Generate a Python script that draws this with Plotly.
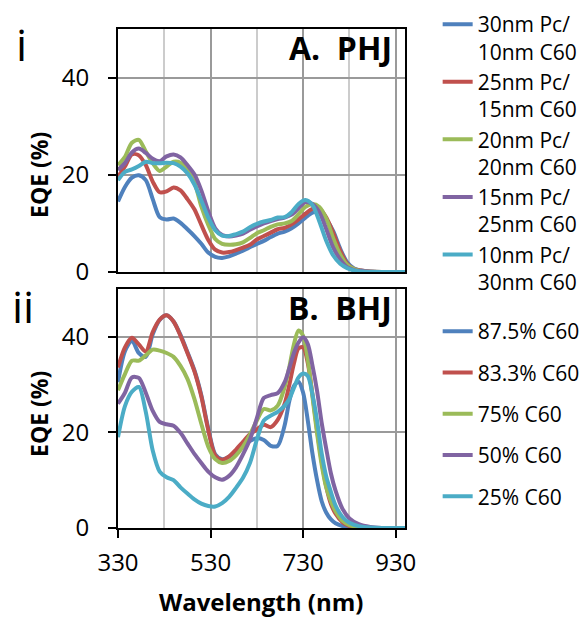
import plotly.graph_objects as go

# ---------------- data ----------------
wl_phj = [330, 345, 360, 375, 390, 405, 420, 435, 450, 465, 480, 495, 510, 525, 540, 555,
          570, 585, 600, 615, 630, 645, 660, 675, 690, 705, 720, 735, 750, 765, 780, 795,
          810, 825, 840, 855, 870, 900, 950]

phj_30_10 = [14.5, 17.5, 19.4, 19.9, 18.9, 15.0, 11.3, 10.8, 11.0, 10.1, 8.8, 7.4, 5.8, 4.0, 3.1, 2.9,
             3.2, 3.8, 4.4, 5.1, 5.8, 6.4, 7.2, 7.9, 8.3, 9.0, 10.0, 11.2, 12.2, 12.4, 10.8, 8.4,
             4.8, 2.0, 0.7, 0.3, 0.1, 0.0, 0.0]
phj_25_15 = [19.6, 21.7, 24.2, 24.0, 22.0, 18.6, 16.4, 16.6, 17.4, 16.8, 15.0, 12.9, 9.7, 6.6, 4.6, 4.0,
             4.1, 4.5, 5.0, 5.6, 6.7, 7.4, 8.1, 8.8, 9.1, 9.8, 10.8, 12.0, 13.0, 13.0, 11.2, 8.0,
             4.4, 1.7, 0.6, 0.3, 0.1, 0.0, 0.0]
phj_20_20 = [22.0, 23.7, 26.6, 27.2, 24.8, 22.4, 20.8, 21.7, 22.7, 22.5, 20.9, 18.5, 13.5, 9.7, 6.8, 5.8,
             5.6, 5.7, 6.1, 7.0, 8.0, 8.6, 9.3, 9.8, 10.0, 10.5, 11.9, 13.4, 14.0, 13.4, 11.0, 6.9,
             3.6, 1.5, 0.6, 0.2, 0.1, 0.0, 0.0]
phj_15_25 = [21.0, 22.4, 24.6, 25.4, 24.5, 23.3, 22.8, 23.8, 24.2, 23.6, 22.0, 20.1, 16.8, 12.5, 9.0, 7.6,
             7.3, 7.5, 7.9, 8.7, 9.4, 10.0, 10.5, 10.9, 11.2, 11.8, 13.1, 14.4, 14.0, 12.3, 8.8, 5.0,
             2.6, 1.0, 0.4, 0.2, 0.1, 0.0, 0.0]
phj_10_30 = [18.9, 20.6, 21.1, 21.8, 22.7, 22.4, 22.4, 22.5, 22.4, 21.7, 20.3, 18.0, 14.7, 11.2, 8.6, 7.5,
             7.4, 7.8, 8.3, 9.2, 9.9, 10.4, 10.7, 11.2, 11.3, 12.3, 14.0, 14.8, 13.8, 10.4, 6.4, 3.4,
             1.7, 0.8, 0.3, 0.1, 0.0, 0.0, 0.0]

wl_bhj = [330, 345, 360, 375, 390, 405, 420, 435, 450, 465, 480, 495, 510, 525, 540, 555,
          570, 585, 600, 615, 630, 645, 660, 675, 690, 700, 710, 720, 730, 740, 750, 760,
          770, 780, 790, 800, 815, 830, 850, 875, 900, 950]

bhj_875 = [30.5, 37.0, 39.2, 36.6, 35.8, 40.5, 43.5, 44.5, 43.2, 40.4, 36.8, 33.0, 27.8, 20.8, 15.4, 14.4,
           14.9, 16.0, 17.2, 18.2, 18.8, 18.4, 17.2, 17.2, 21.5, 26.5, 29.7, 30.6, 28.3, 22.5, 15.6, 10.0,
           5.6, 3.2, 1.8, 1.0, 0.4, 0.1, 0.0, 0.0, 0.0, 0.0]
bhj_833 = [33.6, 37.8, 39.8, 38.4, 36.9, 41.0, 43.6, 44.5, 43.2, 40.2, 36.6, 32.8, 27.5, 20.5, 15.2, 14.3,
           15.0, 16.4, 18.0, 19.6, 20.6, 21.6, 21.1, 22.6, 26.0, 29.9, 34.4, 37.6, 37.8, 34.5, 28.0, 20.5,
           14.0, 8.6, 5.0, 3.0, 1.2, 0.4, 0.1, 0.0, 0.0, 0.0]
bhj_75 = [28.8, 32.2, 35.0, 35.0, 36.1, 37.3, 37.1, 36.6, 35.8, 33.9, 31.2, 27.0, 21.8, 17.0, 14.4, 13.6,
          14.0, 15.2, 17.0, 19.5, 22.5, 24.9, 24.6, 25.6, 29.5, 33.6, 38.4, 41.3, 40.2, 35.2, 27.5, 19.8,
          13.2, 8.4, 5.6, 3.5, 1.5, 0.6, 0.2, 0.0, 0.0, 0.0]
bhj_50 = [26.0, 28.3, 31.5, 31.4, 28.3, 24.5, 22.2, 21.7, 21.4, 19.9, 17.7, 15.5, 13.6, 11.8, 10.6, 10.1,
          10.9, 12.7, 15.4, 18.5, 23.0, 27.2, 27.8, 28.2, 30.5, 33.4, 36.6, 38.8, 39.9, 38.5, 34.0, 28.7,
          22.0, 16.5, 11.4, 7.8, 4.0, 2.0, 0.8, 0.2, 0.0, 0.0]
bhj_25 = [19.0, 25.5, 28.5, 29.5, 24.3, 16.2, 11.8, 10.6, 10.0, 8.5, 7.2, 6.0, 5.1, 4.6, 4.5, 5.2,
          6.5, 8.4, 10.5, 13.6, 18.5, 22.5, 23.5, 24.3, 25.6, 27.0, 29.3, 31.5, 32.3, 31.8, 28.0, 22.5,
          15.6, 10.7, 7.5, 4.7, 2.3, 1.1, 0.4, 0.1, 0.0, 0.0]

phj_names = ["30nm Pc/<br>10nm C60", "25nm Pc/<br>15nm C60", "20nm Pc/<br>20nm C60",
             "15nm Pc/<br>25nm C60", "10nm Pc/<br>30nm C60"]
bhj_names = ["87.5% C60", "83.3% C60", "75% C60", "50% C60", "25% C60"]
colors = ["#4F81BD", "#C0504D", "#9BBB59", "#8064A2", "#4BACC6"]

x_ticks = [330, 530, 730, 930]
x_minor = [430, 630, 830]
y_ticks = [0, 20, 40]

FONT = "Open Sans"

fig = go.Figure()

for i, (name, ys) in enumerate(zip(phj_names, [phj_30_10, phj_25_15, phj_20_20, phj_15_25, phj_10_30])):
    fig.add_trace(go.Scatter(x=wl_phj, y=ys, name=name, mode="lines",
                             line=dict(color=colors[i], width=4, shape="spline", smoothing=0.8),
                             xaxis="x", yaxis="y", legend="legend", legendgroup="a%d" % i))

for i, (name, ys) in enumerate(zip(bhj_names, [bhj_875, bhj_833, bhj_75, bhj_50, bhj_25])):
    fig.add_trace(go.Scatter(x=wl_bhj, y=ys, name=name, mode="lines",
                             line=dict(color=colors[i], width=4, shape="spline", smoothing=0.8),
                             xaxis="x2", yaxis="y2", legend="legend2", legendgroup="b%d" % i))

axis_common = dict(showline=True, linecolor="black", linewidth=2, mirror=True, zeroline=False)
xcommon = dict(range=[330, 950], tickvals=x_ticks, showgrid=True, gridcolor="#9a9a9a", gridwidth=1.5,
               minor=dict(tickvals=x_minor, showgrid=True, gridcolor="#cccccc", gridwidth=1.5),
               **axis_common)
ycommon = dict(range=[0, 50], tickvals=y_ticks, showgrid=True, gridcolor="#9a9a9a", gridwidth=1.5,
               ticks="outside", ticklen=8, tickwidth=1.5, tickcolor="black",
               tickfont=dict(family=FONT, size=24, color="black"), ticklabelstandoff=14,
               **axis_common)

fig.update_layout(
    width=582, height=617,
    margin=dict(l=118, r=177, t=29, b=89),
    paper_bgcolor="white", plot_bgcolor="white",
    font=dict(family=FONT, color="black"),
    xaxis=dict(domain=[0, 1], anchor="y", showticklabels=False, ticks="", **xcommon),
    xaxis2=dict(domain=[0, 1], anchor="y2", ticks="outside", ticklen=8, tickwidth=1.5, tickcolor="black",
                tickfont=dict(family=FONT, size=24, color="black"), ticklabelstandoff=4, **xcommon),
    yaxis=dict(domain=[0.513, 1], anchor="x", **ycommon),
    yaxis2=dict(domain=[0, 0.479], anchor="x2", **ycommon),
    legend=dict(xref="container", yref="container", x=0.752, y=1 - 4 / 617, xanchor="left", yanchor="top",
                font=dict(family=FONT, size=21, color="black"), valign="top",
                traceorder="grouped", tracegroupgap=0, bgcolor="rgba(0,0,0,0)"),
    legend2=dict(xref="container", yref="container", x=0.752, y=1 - 311 / 617, xanchor="left", yanchor="top",
                 font=dict(family=FONT, size=21, color="black"),
                 traceorder="grouped", tracegroupgap=11, bgcolor="rgba(0,0,0,0)"),
    showlegend=True,
)

annos = [
    dict(text="A.\u00a0\u00a0PHJ", x=0.96, y=1.0, yshift=5, xref="x domain", yref="y domain", xanchor="right",
         yanchor="top", showarrow=False, font=dict(family=FONT, size=32, color="black", weight="bold")),
    dict(text="B.\u00a0\u00a0BHJ", x=0.96, y=1.0, yshift=5, xref="x2 domain", yref="y2 domain", xanchor="right",
         yanchor="top", showarrow=False, font=dict(family=FONT, size=32, color="black", weight="bold")),
    dict(text="EQE (%)", x=39 / 582, y=1 - 175 / 617, xref="paper", yref="paper", showarrow=False,
         textangle=-90, font=dict(family=FONT, size=23, color="black", weight="bold"),
         xanchor="center", yanchor="middle"),
    dict(text="EQE (%)", x=39 / 582, y=1 - 414 / 617, xref="paper", yref="paper", showarrow=False,
         textangle=-90, font=dict(family=FONT, size=23, color="black", weight="bold"),
         xanchor="center", yanchor="middle"),
    dict(text="Wavelength (nm)", x=261 / 582, y=1 - 601 / 617, xref="paper", yref="paper", showarrow=False,
         font=dict(family=FONT, size=24, color="black", weight="bold"), xanchor="center", yanchor="middle"),
    dict(text="i", x=22 / 582, y=1 - 44 / 617, xref="paper", yref="paper", showarrow=False,
         font=dict(family=FONT, size=44, color="black"), xanchor="center", yanchor="middle"),
    dict(text="ii", x=23 / 582, y=1 - 306 / 617, xref="paper", yref="paper", showarrow=False,
         font=dict(family=FONT, size=44, color="black"), xanchor="center", yanchor="middle"),
]
# annotations given in page pixels above are converted to paper coordinates
for a in annos:
    if a["xref"] == "paper":
        a["x"] = (a["x"] * 582 - 118) / (582 - 118 - 177)
        a["y"] = (a["y"] * 617 - 89) / (617 - 29 - 89)
fig.update_layout(annotations=annos)

fig.write_html("out.html")
